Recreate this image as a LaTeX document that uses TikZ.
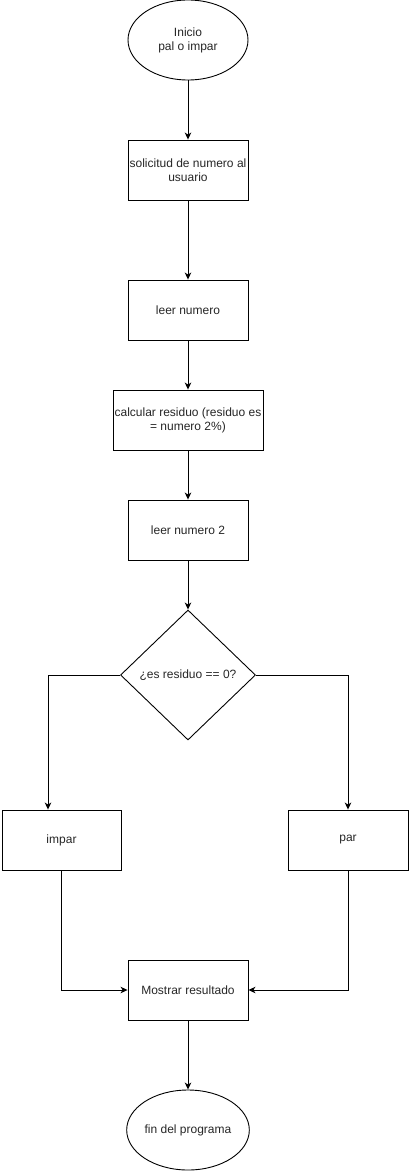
\documentclass[tikz,border=0pt]{standalone}
\usepackage{fontspec}
\setmainfont{Liberation Sans}
\usetikzlibrary{shapes.geometric,arrows.meta}
\begin{document}
\begin{tikzpicture}[x=1pt,y=-1pt,
  every node/.style={font=\fontsize{12}{14}\selectfont, text=black!85, align=center, inner sep=0pt},
  proc/.style={draw, line width=0.9pt, minimum width=120pt, minimum height=60pt},
  term/.style={draw, ellipse, line width=0.9pt, minimum width=120pt, minimum height=80pt},
  decision/.style={draw, diamond, line width=0.9pt, minimum width=135pt, minimum height=130pt},
  flow/.style={line width=0.9pt, -{Stealth[length=7pt,width=6.5pt,inset=2pt]}}]
  \useasboundingbox (0,0) rectangle (409,1172);

  \node[term] (start) at (188,40) {Inicio\\pal o impar};
  \node[proc] (ask) at (188,170) {solicitud de numero al\\usuario};
  \node[proc] (read) at (188,310) {leer numero};
  \node[proc, minimum width=150pt] (calc) at (188,420) {calcular residuo (residuo es\\= numero 2\%)};
  \node[proc] (read2) at (188,530) {leer numero 2};
  \node[decision] (dec) at (188,675) {¿es residuo == 0?};
  \node[proc, minimum width=119pt] (odd) at (61.5,840) {impar};
  \node[proc] (even) at (348,840) {par};
  \node[proc] (show) at (188,990) {Mostrar resultado};
  \node[term] (fin) at (188,1130) {fin del programa};

  \coordinate (lbend) at (48,675);

  \draw[flow] (start) -- (ask);
  \draw[flow] (ask) -- (read);
  \draw[flow] (read) -- (calc);
  \draw[flow] (calc) -- (read2);
  \draw[flow] (read2) -- (dec);
  \draw[flow] (dec.west) -- (lbend) -- (lbend |- odd.north);
  \draw[flow] (dec.east) -| (even.north);
  \draw[flow] (odd.south) |- (show.west);
  \draw[flow] (even.south) |- (show.east);
  \draw[flow] (show) -- (fin);
\end{tikzpicture}
\end{document}
